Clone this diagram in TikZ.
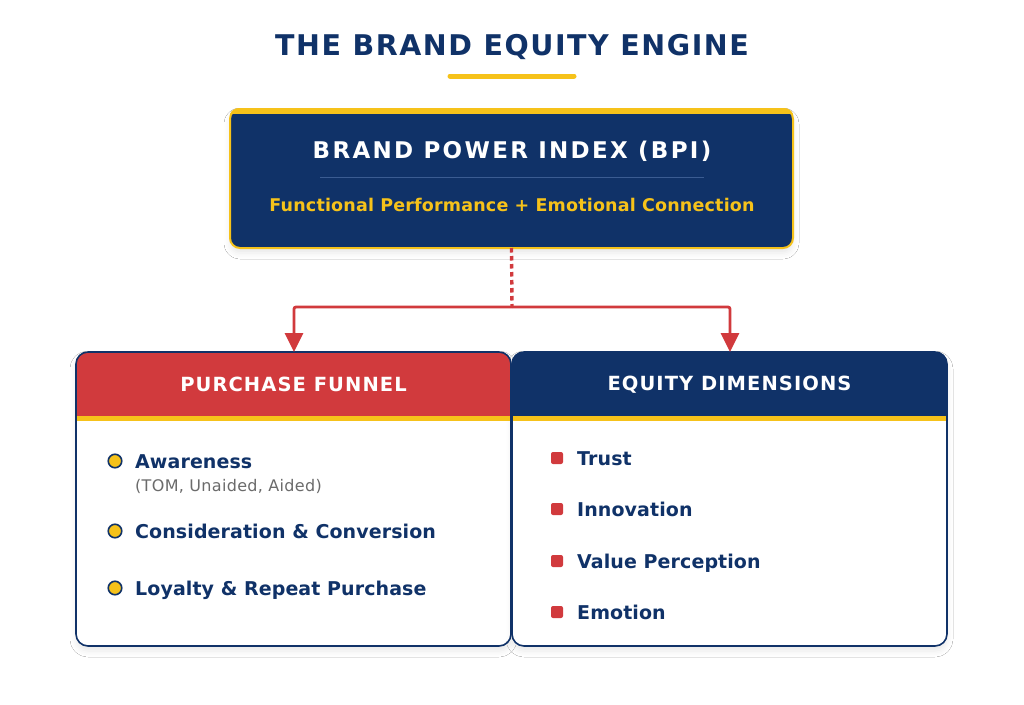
\documentclass[tikz,border=0pt]{standalone}
\usepackage{fontspec}
\setmainfont{DejaVu Sans}
\usetikzlibrary{arrows.meta,shadows.blur}
\definecolor{navy}{HTML}{103268}
\definecolor{bred}{HTML}{D13A3D}
\definecolor{byel}{HTML}{F6C21A}
\definecolor{sepblue}{HTML}{3B5C92}
\definecolor{greytxt}{HTML}{6B6B6B}
\tikzset{
  titletext/.style={font=\fontsize{28.5}{32}\selectfont\bfseries\addfontfeature{LetterSpace=5.5}, text=navy, inner sep=0pt},
  bpititle/.style={font=\fontsize{23}{27}\selectfont\bfseries\addfontfeature{LetterSpace=10}, text=white, inner sep=0pt},
  bpisub/.style={font=\fontsize{17.5}{20}\selectfont\bfseries\addfontfeature{LetterSpace=1}, text=byel, inner sep=0pt},
  hdrtext/.style={font=\fontsize{19.5}{22}\selectfont\bfseries\addfontfeature{LetterSpace=5.5}, text=white, inner sep=0pt, outer sep=0pt, minimum width=435pt, minimum height=65pt, anchor=north west},
  item/.style={font=\fontsize{19}{22}\selectfont\bfseries\addfontfeature{LetterSpace=0.5}, text=navy, inner sep=0pt, anchor=base west},
  subitem/.style={font=\fontsize{16}{19}\selectfont\addfontfeature{LetterSpace=2}, text=greytxt, inner sep=0pt, anchor=base west},
  softshadow/.style={blur shadow={shadow xshift=0pt, shadow yshift=-5pt, shadow blur radius=6pt, shadow opacity=9}},
  cardbody/.style={fill=white, inner sep=0pt, outer sep=0pt, rounded corners=12pt, minimum width=435pt, minimum height=294pt, anchor=north west, softshadow},
  cardborder/.style={draw=navy, line width=1.6pt, rounded corners=12pt},
  dotbullet/.style={circle, fill=byel, draw=navy, line width=1.6pt, minimum size=13.5pt, inner sep=0pt},
  sqbullet/.style={rectangle, fill=bred, rounded corners=2pt, minimum size=12pt, inner sep=0pt},
  conn/.style={draw=bred, line width=2.8pt},
  dotconn/.style={draw=bred, line width=3.4pt, dash pattern=on 4.5pt off 3.5pt},
}
\begin{document}
\begin{tikzpicture}[x=1pt,y=-1pt]
\useasboundingbox[fill=white] (0,0) rectangle (1024,704);

% title
\node[titletext] (title) at (512,47) {THE BRAND EQUITY ENGINE};
\coordinate (ulA) at (450,76);
\coordinate (ulB) at (574,76);
\draw[byel, line width=5pt, line cap=round] (ulA) -- (ulB);

% BPI box
\node[fill=navy, draw=byel, line width=2pt, rounded corners=10pt, minimum width=563pt, minimum height=139pt, inner sep=0pt, outer sep=0pt, softshadow] (bpi) at (511.5,178.5) {};
\begin{scope}
  \clip[rounded corners=10pt] (229,108) rectangle (794,249);
  \fill[byel] (229,107) rectangle (794,114);
\end{scope}
\node[bpititle] (bpit) at (512,151) {BRAND POWER INDEX (BPI)};
\draw[sepblue, line width=1pt] (320,177.5) -- (704,177.5);
\node[bpisub] (bpis) at (512,205) {Functional Performance + Emotional Connection};

% cards
\node[cardbody] (pfcard) at (76,352) {};
\node[cardbody] (edcard) at (512,352) {};
\begin{scope}
  \clip[rounded corners=12pt] (76,352) rectangle (511,646);
  \fill[bred] (76,352) rectangle (511,416);
  \fill[byel] (76,416) rectangle (511,421);
\end{scope}
\begin{scope}
  \clip[rounded corners=12pt] (512,352) rectangle (947,646);
  \fill[navy] (512,352) rectangle (947,416);
  \fill[byel] (512,416) rectangle (947,421);
\end{scope}
\draw[cardborder] (76,352) rectangle (511,646);
\draw[cardborder] (512,352) rectangle (947,646);
\node[hdrtext] (pfhead) at (76,352) {PURCHASE FUNNEL};
\node[hdrtext] (edhead) at (512,352) {EQUITY DIMENSIONS};

% connectors
\coordinate (junc) at (512,307);
\coordinate (pfin) at (294,352);
\coordinate (edin) at (730,352);
\draw[dotconn] (bpi.south) -- (junc);
\draw[conn, rounded corners=2pt, -{Triangle[width=18pt,length=19pt]}] (junc) -| (pfin);
\draw[conn, rounded corners=2pt, -{Triangle[width=18pt,length=19pt]}] (junc) -| (edin);

% left items
\node[dotbullet] (b1) at (115,461) {};
\node[item] (i1) at (135,468) {Awareness};
\node[subitem] (i1s) at (135,491) {(TOM, Unaided, Aided)};
\node[dotbullet] (b2) at (115,531) {};
\node[item] (i2) at (135,538) {Consideration \& Conversion};
\node[dotbullet] (b3) at (115,588) {};
\node[item] (i3) at (135,595) {Loyalty \& Repeat Purchase};

% right items
\node[sqbullet] (s1) at (557,458) {};
\node[item] (r1) at (577,465) {Trust};
\node[sqbullet] (s2) at (557,509) {};
\node[item] (r2) at (577,516) {Innovation};
\node[sqbullet] (s3) at (557,561) {};
\node[item] (r3) at (577,568) {Value Perception};
\node[sqbullet] (s4) at (557,612) {};
\node[item] (r4) at (577,619) {Emotion};
\end{tikzpicture}
\end{document}
